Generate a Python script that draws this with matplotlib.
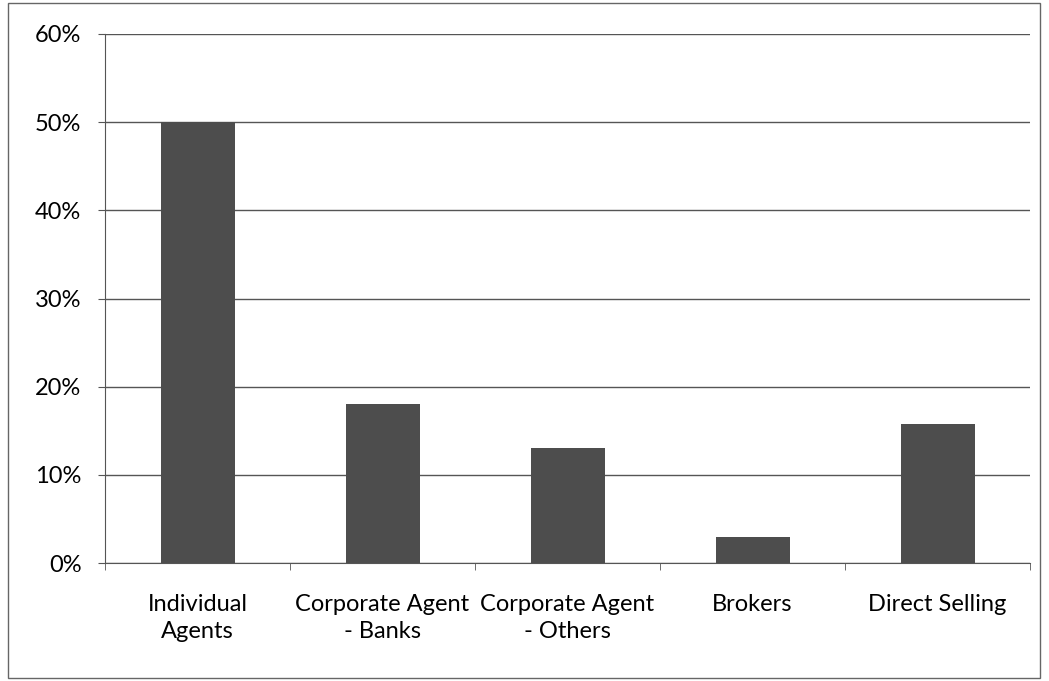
import numpy as np
import matplotlib.pyplot as plt
from matplotlib.patches import Rectangle

categories = ["Individual\nAgents", "Corporate Agent\n- Banks", "Corporate Agent\n- Others",
              "Brokers", "Direct Selling"]
shares = [50.0, 18.0, 13.0, 3.0, 15.8]
yticks = [0, 10, 20, 30, 40, 50, 60]

plt.rcParams['font.family'] = ['Lato', 'DejaVu Sans']

fig = plt.figure(figsize=(10.49, 6.81), dpi=100)
ax = fig.add_axes([105/1049, 1-563/681, 925/1049, 529/681])

x = np.arange(len(categories))
ax.bar(x, shares, width=0.4, color='#4d4d4d', zorder=3)

ax.set_xlim(-0.5, len(categories)-0.5)
ax.set_ylim(0, 60)
ax.set_yticks(yticks)
ax.set_yticklabels([f"{v}%" for v in yticks], fontsize=17)
ax.set_xticks(x)
ax.set_xticklabels(categories, fontsize=17, linespacing=1.4)
ax.set_xticks(np.arange(-0.5, len(categories)), minor=True)
ax.tick_params(axis='x', which='major', length=0, pad=22)
ax.tick_params(axis='x', which='minor', length=5, direction='out', color='#555555')
ax.tick_params(axis='y', length=5, direction='out', color='#555555', pad=12)

ax.grid(axis='y', color='#555555', linewidth=1.0, zorder=0)
for side in ['top', 'right']:
    ax.spines[side].set_visible(False)
ax.spines['left'].set_color('#555555')
ax.spines['bottom'].set_color('#555555')

fig.patches.append(Rectangle((8/1049, 3/681), 1032/1049, 675/681, transform=fig.transFigure,
                             fill=False, edgecolor='#666666', linewidth=1.0))

fig.savefig('out.png', dpi=100)
